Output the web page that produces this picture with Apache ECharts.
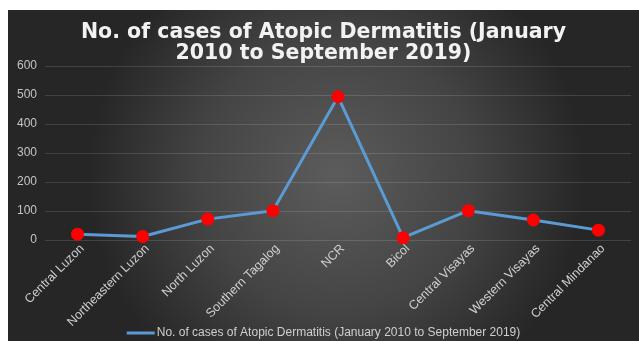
<!DOCTYPE html>
<html>
<head>
<meta charset="utf-8">
<script src="https://cdn.jsdelivr.net/npm/echarts@6/dist/echarts.min.js"></script>
<style>
  html, body { margin: 0; padding: 0; background: #ffffff; width: 639px; height: 341px; overflow: hidden; }
  #chart { position: absolute; left: 8px; top: 10px; width: 631px; height: 331px; }
</style>
</head>
<body>
<div id="chart"></div>
<script>
// Regions of the Philippines and case counts
const regions = [
  'Central Luzon', 'Northeastern Luzon', 'North Luzon', 'Southern Tagalog',
  'NCR', 'Bicol', 'Central Visayas', 'Western Visayas', 'Central Mindanao'
];
const cases = [20, 12, 72, 101, 494, 8, 101, 69, 34];
const seriesName = 'No. of cases of Atopic Dermatitis (January 2010 to September 2019)';
const titleText = 'No. of cases of Atopic Dermatitis (January\n2010 to September 2019)';
const yMin = 0, yMax = 600, yStep = 100;

const lineColor = '#5b9bd5';
const chart = echarts.init(document.getElementById('chart'));
chart.setOption({
  animation: false,
  backgroundColor: {
    type: 'radial', x: 0.52, y: 0.5, r: 0.75,
    colorStops: [
      { offset: 0, color: '#5c5c5c' },
      { offset: 0.55, color: '#444444' },
      { offset: 1, color: '#262626' }
    ]
  },
  title: {
    text: titleText,
    left: 'center',
    top: 7,
    textStyle: {
      color: '#f2f2f2', fontFamily: 'DejaVu Sans', fontWeight: 'bold',
      fontSize: 20.5, lineHeight: 21
    }
  },
  grid: { left: 37, top: 56, width: 586, height: 174 },
  legend: {
    data: [{ name: seriesName, icon: 'rect', itemStyle: { color: lineColor } }],
    left: 'center',
    top: 312,
    itemWidth: 28, itemHeight: 3, itemGap: 4,
    textStyle: { color: '#cfcfcf', fontFamily: 'Liberation Sans', fontSize: 12, padding: [0, 0, 0, -3] }
  },
  xAxis: {
    type: 'category',
    data: regions,
    boundaryGap: true,
    axisLine: { show: false },
    axisTick: { show: false },
    axisLabel: {
      rotate: 45, color: '#cfcfcf', fontFamily: 'Liberation Sans', fontSize: 12.5,
      margin: 2, verticalAlign: 'top', interval: 0
    }
  },
  yAxis: {
    type: 'value',
    min: yMin, max: yMax, interval: yStep,
    axisLine: { show: false },
    axisTick: { show: false },
    axisLabel: { color: '#c4c4c4', fontFamily: 'Liberation Sans', fontSize: 12, margin: 8 },
    splitLine: { lineStyle: { color: 'rgba(255,255,255,0.13)', width: 1 } }
  },
  series: [{
    name: seriesName,
    type: 'line',
    data: cases,
    symbol: 'circle',
    symbolSize: 13,
    lineStyle: { color: lineColor, width: 3 },
    itemStyle: { color: '#ff0000' },
    z: 3
  }]
});
</script>
</body>
</html>
